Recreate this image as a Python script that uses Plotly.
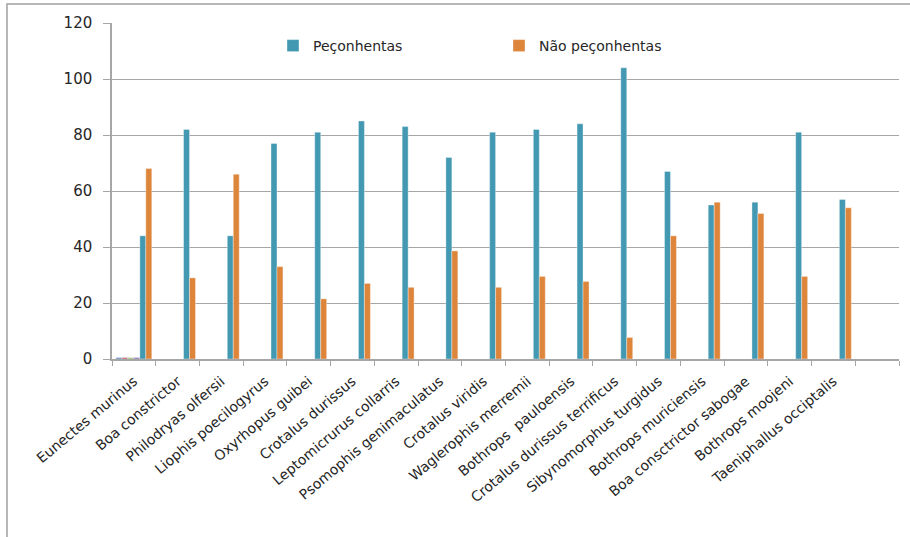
import plotly.graph_objects as go

categories = ["Eunectes murinus", "Boa constrictor", "Philodryas olfersii", "Liophis poecilogyrus",
              "Oxyrhopus guibei", "Crotalus durissus", "Leptomicrurus collarris", "Psomophis genimaculatus",
              "Crotalus viridis", "Waglerophis merremii", "Bothrops  pauloensis", "Crotalus durissus terrificus",
              "Sibynomorphus turgidus", "Bothrops muriciensis", "Boa consctrictor sabogae", "Bothrops moojeni",
              "Taeniphallus occiptalis", " "]
peconhentas = [44, 82, 44, 77, 81, 85, 83, 72, 81, 82, 84, 104, 67, 55, 56, 81, 57, None]
nao_peconhentas = [68, 29, 66, 33, 21.5, 27, 25.6, 38.6, 25.6, 29.5, 27.7, 7.7, 44, 56, 52, 29.5, 54, None]
# four extra (unlabelled) series with tiny values in the first category only
extra_1 = [0.5] + [None] * 17
extra_2 = [0.5] + [None] * 17
extra_3 = [0.5] + [None] * 17
extra_4 = [0.5] + [None] * 17
y_ticks = [0, 20, 40, 60, 80, 100, 120]

FONT = "DejaVu Sans"
GRID = "#A6A6A6"

fig = go.Figure()
for vals, col in [(extra_1, "#4F81BD"), (extra_2, "#C0504D"), (extra_3, "#9BBB59"), (extra_4, "#8064A2")]:
    fig.add_bar(x=categories, y=vals, marker_color=col, showlegend=False, hoverinfo="skip")
fig.add_bar(x=categories, y=peconhentas, name="Peçonhentas",
            marker=dict(color="#4399B2", line=dict(color="rgba(255,255,255,0.6)", width=0.6)))
fig.add_bar(x=categories, y=nao_peconhentas, name="Não peçonhentas",
            marker=dict(color="#DE853C", line=dict(color="rgba(255,255,255,0.6)", width=0.6)))

# plot area: x 112..899 px, y 23..359 px
L, R, T, B = 112, 899, 23, 359
def px_x(p):
    return (p - L) / (R - L)
def px_y(p):
    return (B - p) / (B - T)

fig.add_shape(type="path", xref="paper", yref="paper",
              path=f"M {px_x(7)} {px_y(545)} L {px_x(7)} {px_y(4)} L {px_x(915)} {px_y(4)}",
              line=dict(color="#A0A0A0", width=1.5))

fig.update_layout(
    width=910, height=537,
    margin=dict(l=L, r=910 - R, t=T, b=537 - B, autoexpand=False),
    paper_bgcolor="white", plot_bgcolor="white",
    barmode="group", bargap=0.18, bargroupgap=0,
    font=dict(family=FONT, size=14, color="#262626"),
    showlegend=True,
    legend=dict(orientation="h", x=px_x(273), y=px_y(30), xanchor="left", yanchor="top",
                entrywidth=181, entrywidthmode="pixels", font=dict(size=14, color="#262626"),
                bgcolor="rgba(0,0,0,0)", traceorder="normal"),
    xaxis=dict(type="category", categoryorder="array", categoryarray=categories,
               range=[-0.5, len(categories) - 0.5],
               tickson="boundaries", ticks="outside", ticklen=5, tickcolor=GRID,
               showline=True, linecolor=GRID, linewidth=1.5, showgrid=False, automargin=False,
               tickangle=-40, tickfont=dict(family=FONT, size=14), ticklabelstandoff=7),
    yaxis=dict(range=[0, 120], tickvals=y_ticks, ticks="outside", ticklen=7, tickcolor=GRID,
               showline=True, linecolor=GRID, linewidth=1.5, showgrid=True, gridcolor=GRID, gridwidth=1.2,
               zeroline=False, automargin=False, tickfont=dict(family=FONT, size=15), ticklabelstandoff=8),
)

fig.write_html("out.html", config={"displayModeBar": False},
               post_script="document.body.style.margin='0px';")
